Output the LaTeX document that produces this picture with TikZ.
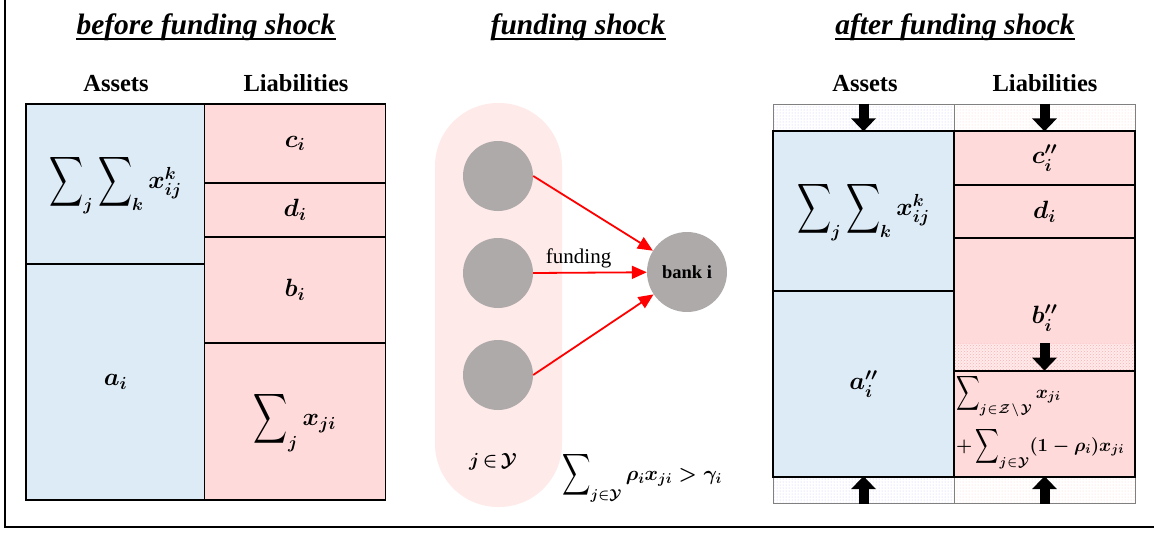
\RequirePackage{fix-cm}
\documentclass[tikz,border=0pt]{standalone}
\usepackage{amsmath}
\usepackage[no-math]{fontspec}
\setmainfont{Liberation Serif}
\usepackage{graphicx}
\usetikzlibrary{positioning, arrows.meta, patterns}
\definecolor{assetB}{HTML}{DDEBF7}
\definecolor{liabP}{HTML}{FFDADA}
\definecolor{grpP}{HTML}{FFEAEA}
\definecolor{nodeG}{HTML}{AEAAAA}
\definecolor{fundR}{HTML}{FF0000}
\newcommand{\bigsig}{\mathop{\vcenter{\hbox{\scalebox{0.95}[1.4]{$\displaystyle\sum$}}}}\nolimits}

\begin{document}
\begin{tikzpicture}[x=1pt, y=-1pt,
  sheet/.style={draw, line width=1.6pt, inner sep=0pt,
     font=\boldmath\fontsize{25}{30}\selectfont},
  asset/.style={sheet, fill=assetB},
  liab/.style={sheet, fill=liabP, minimum width=181pt},
  strip/.style={draw=gray, line width=0.8pt, minimum width=181pt, minimum height=27pt},
  hdr/.style={font=\bfseries\fontsize{24.5}{28}\selectfont, anchor=base},
  heading/.style={font=\bfseries\itshape\fontsize{29.5}{32}\selectfont, anchor=base, inner sep=0pt},
  member/.style={circle, fill=nodeG, minimum size=70pt, inner sep=0pt},
  fund/.style={fundR, line width=1.8pt, -{Triangle[length=15pt,width=13pt]}},
  push/.style={line width=10pt, -{Triangle[length=13pt,width=24pt]}}]
  \useasboundingbox (0,0) rectangle (1154,533);
  \draw[line width=2pt] (5,0) -- (5,527) -- (1154,527);
  % titles
  \node[heading] (titleB) at (206,34) {before funding shock};
  \node[heading] (titleF) at (578,34) {funding shock};
  \node[heading] (titleA) at (955,34) {after funding shock};
  \foreach \t in {titleB,titleF,titleA}{
     \draw[line width=2.6pt] ([yshift=-5pt]\t.base west) -- ([yshift=-5pt]\t.base east);
  }
  % before funding shock
  \node[hdr] (hdrBA) at (116,91) {Assets};
  \node[hdr] (hdrBL) at (296,91) {Liabilities};
  \node[asset, minimum width=179pt, minimum height=160pt] (sumB) at (115.5,184)
     {$\bigsig_j\bigsig_k x_{ij}^k$};
  \node[asset, minimum width=179pt, minimum height=236pt] (aB) at (115.5,382) {$a_i$};
  \node[liab, minimum height=79pt] (cB) at (295,143.5) {$c_i$};
  \node[liab, minimum height=54pt] (dB) at (295,210) {$d_i$};
  \node[liab, minimum height=106pt] (bB) at (295,290) {$b_i$};
  \node[liab, minimum height=157pt] (xB) at (295,421.5) {$\bigsig_j x_{ji}$};
  % funding shock
  \node[fill=grpP, rounded corners=63pt, minimum width=127pt, minimum height=404pt]
     (grpY) at (498.5,305) {};
  \foreach \k/\yy in {1/176,2/273,3/375}{
     \node[member] (fj\k) at (498,\yy) {};
  }
  \node[member, minimum size=80pt, font=\bfseries\fontsize{18.5}{22}\selectfont]
     (bank) at (687,272) {bank i};
  \foreach \k in {1,3}{ \draw[fund] (fj\k.east) -- (bank); }
  \draw[fund] (fj2.east) -- node[above, pos=0.4, text=black, font=\fontsize{21}{24}\selectfont]
     (fundlab) {funding} (bank);
  \node[font=\boldmath\fontsize{19}{24}\selectfont] (inY) at (493,462)
     {$j\mkern-2mu\in\mkern-2mu\mathcal{Y}$};
  \node[anchor=west, inner sep=0pt, font=\boldmath\fontsize{20.5}{26}\selectfont] (cond) at (562,477)
     {$\bigsig_{j\in\mathcal{Y}}\rho_i x_{ji}>\gamma_i$};
  % after funding shock
  \node[hdr] (hdrAA) at (865,91) {Assets};
  \node[hdr] (hdrAL) at (1045,91) {Liabilities};
  \node[strip, pattern=dots, pattern color=blue!25] (stripAT) at (863.5,117.5) {};
  \node[strip, pattern=dots, pattern color=red!20] (stripLT) at (1044.5,117.5) {};
  \node[strip, pattern=dots, pattern color=blue!25] (stripAB) at (863.5,490) {};
  \node[strip, pattern=dots, pattern color=red!20] (stripLB) at (1044.5,490) {};
  \node[asset, minimum width=181pt, minimum height=160pt] (sumA) at (863.5,211)
     {$\bigsig_j\bigsig_k x_{ij}^k$};
  \node[asset, minimum width=181pt, minimum height=186pt] (aA) at (863.5,384) {$a_i''$};
  \node[liab, minimum height=54pt] (cA) at (1044.5,158) {$c_i''$};
  \node[liab, minimum height=53pt] (dA) at (1044.5,211.5) {$d_i$};
  \node[liab, minimum height=133pt] (bA) at (1044.5,304.5) {};
  \node[minimum width=179pt, minimum height=27pt, inner sep=0pt,
     preaction={fill=liabP!55}, pattern=crosshatch dots, pattern color=liabP!80!red]
     (bshock) at (1044.5,357) {};
  \node[font=\boldmath\fontsize{25}{30}\selectfont] (bAlab) at (1044.5,318) {$b_i''$};
  \node[liab, minimum height=106pt] (xA) at (1044.5,424) {};
  \node[anchor=north west, align=left, inner sep=1pt,
     font=\boldmath\fontsize{18.5}{53}\selectfont] (xAlab) at (955,373)
     {$\bigsig_{j\mkern1mu\in\mkern1mu\mathcal{Z}\mkern2mu\setminus\mkern2mu\mathcal{Y}}x_{ji}$\\
      $+\bigsig_{j\mkern1mu\in\mkern1mu\mathcal{Y}}(1-\rho_i)x_{ji}$};
  \draw[push] (stripAT.north) -- (stripAT.south);
  \draw[push] (stripLT.north) -- (stripLT.south);
  \draw[push] (bshock.north) -- (bshock.south);
  \draw[push] (stripAB.south) -- (stripAB.north);
  \draw[push] (stripLB.south) -- (stripLB.north);
\end{tikzpicture}
\end{document}
